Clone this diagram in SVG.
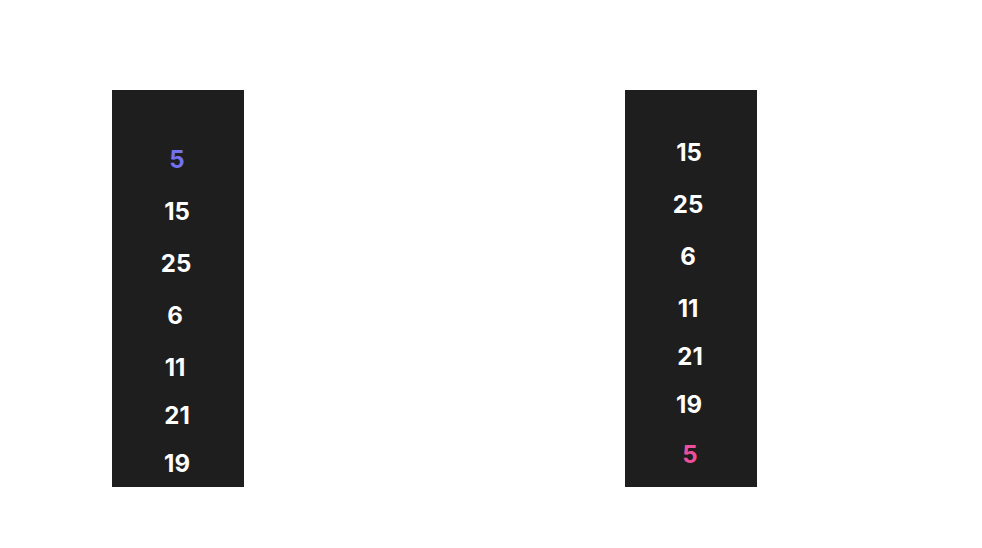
<svg xmlns="http://www.w3.org/2000/svg" width="982" height="548" viewBox="0 0 982 548">
<style>
.col{fill:#1e1e1e}
.t{font-family:Inter,"Noto Sans",sans-serif;font-size:24px;font-weight:700;fill:#ffffff;text-anchor:middle}
.blue{fill:#7272f0}
.pink{fill:#ee4f9c}
</style>
<rect width="982" height="548" fill="#ffffff"/>
<g id="left-column">
<rect class="col" x="112" y="90" width="132" height="397"/>
<text class="t blue" x="177" y="168">5</text>
<text class="t" x="177" y="220">15</text>
<text class="t" x="176" y="272">25</text>
<text class="t" x="175" y="324">6</text>
<text class="t" x="175" y="376">11</text>
<text class="t" x="177" y="424">21</text>
<text class="t" x="177" y="472">19</text>
</g>
<g id="right-column">
<rect class="col" x="625" y="90" width="132" height="397"/>
<text class="t" x="689" y="161">15</text>
<text class="t" x="688" y="213">25</text>
<text class="t" x="688" y="265">6</text>
<text class="t" x="688" y="317">11</text>
<text class="t" x="690" y="365">21</text>
<text class="t" x="689" y="413">19</text>
<text class="t pink" x="690" y="463">5</text>
</g>
<g id="connectors"></g>
</svg>
